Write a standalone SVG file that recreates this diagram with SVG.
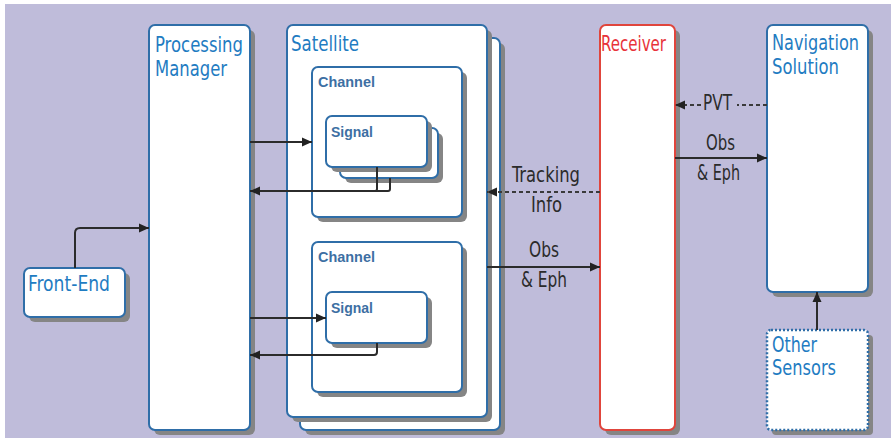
<svg xmlns="http://www.w3.org/2000/svg" width="891" height="438" viewBox="0 0 891 438">
<defs>
<style>
.box{fill:#fff;stroke:#2f6ea8;stroke-width:2}
.sh{fill:#858585}
.t{font-family:"Liberation Sans Narrow","DejaVu Sans Condensed","Liberation Sans",sans-serif;font-size:21px;fill:#1f7cc2}
.tb{font-family:"Liberation Sans","DejaVu Sans",sans-serif;font-weight:bold;font-size:14.5px;fill:#3d6fa3}
.lbl{font-family:"Liberation Sans Narrow","DejaVu Sans Condensed","Liberation Sans",sans-serif;font-size:21px;fill:#2b2b2b}
.ln{fill:none;stroke:#2b2b2b;stroke-width:2}
.dl{fill:none;stroke:#3a3a3a;stroke-width:1.8;stroke-dasharray:4 3}
</style>
<marker id="ah" viewBox="0 0 10 10" refX="10" refY="5" markerWidth="10" markerHeight="10" markerUnits="userSpaceOnUse" orient="auto">
<path d="M0,0.5 L10,5 L0,9.5 Z" fill="#222"/>
</marker>
</defs>
<rect x="5" y="4" width="886" height="434" fill="#bfbcda"/>

<g id="front-end">
<rect class="sh" x="29" y="273" width="101" height="49" rx="6"/>
<rect class="box" x="24" y="268" width="101" height="49" rx="6"/>
<text class="t" x="28" y="291" textLength="82" lengthAdjust="spacingAndGlyphs">Front-End</text>
</g>

<g id="processing-manager">
<rect class="sh" x="154" y="30" width="101" height="405" rx="6"/>
<rect class="box" x="149" y="25" width="101" height="405" rx="6"/>
<text class="t" x="155" y="52" textLength="88" lengthAdjust="spacingAndGlyphs">Processing</text>
<text class="t" x="155" y="76" textLength="72" lengthAdjust="spacingAndGlyphs">Manager</text>
</g>

<g id="satellite">
<rect class="sh" x="305" y="43" width="200" height="392" rx="6"/>
<rect class="box" x="300" y="38" width="200" height="392" rx="6"/>
<rect class="sh" x="292" y="30" width="200" height="392" rx="6"/>
<rect class="box" x="287" y="25" width="200" height="392" rx="6"/>
<text class="t" x="291" y="51" textLength="68" lengthAdjust="spacingAndGlyphs">Satellite</text>
<g id="channel-1">
<rect class="sh" x="317" y="72" width="150" height="150" rx="6"/>
<rect class="box" x="312" y="67" width="150" height="150" rx="6"/>
<text class="tb" x="318" y="87" textLength="57" lengthAdjust="spacingAndGlyphs">Channel</text>
<g id="signal-1">
<rect class="sh" x="345" y="133" width="98" height="50" rx="6"/>
<rect class="box" x="340" y="128" width="98" height="50" rx="6"/>
<rect class="sh" x="331" y="121" width="101" height="51" rx="6"/>
<rect class="box" x="326" y="116" width="101" height="51" rx="6"/>
<text class="tb" x="331" y="137" textLength="42" lengthAdjust="spacingAndGlyphs">Signal</text>
</g>
</g>
<g id="channel-2">
<rect class="sh" x="317" y="247" width="150" height="150" rx="6"/>
<rect class="box" x="312" y="242" width="150" height="150" rx="6"/>
<text class="tb" x="318" y="262" textLength="57" lengthAdjust="spacingAndGlyphs">Channel</text>
<g id="signal-2">
<rect class="sh" x="331" y="297" width="101" height="51" rx="6"/>
<rect class="box" x="326" y="292" width="101" height="51" rx="6"/>
<text class="tb" x="331" y="313" textLength="42" lengthAdjust="spacingAndGlyphs">Signal</text>
</g>
</g>
</g>

<g id="receiver">
<rect class="sh" x="605" y="30" width="75" height="405" rx="6"/>
<rect x="600" y="25" width="75" height="405" rx="6" fill="#fff" stroke="#e0453c" stroke-width="2"/>
<text class="t" x="601" y="51" textLength="65" lengthAdjust="spacingAndGlyphs" style="fill:#e8333a">Receiver</text>
</g>

<g id="navigation-solution">
<rect class="sh" x="772" y="30" width="101" height="267" rx="6"/>
<rect class="box" x="767" y="25" width="101" height="267" rx="6"/>
<text class="t" x="772" y="50" textLength="87" lengthAdjust="spacingAndGlyphs">Navigation</text>
<text class="t" x="772" y="74" textLength="67" lengthAdjust="spacingAndGlyphs">Solution</text>
</g>

<g id="other-sensors">
<rect class="sh" x="772" y="335" width="101" height="100" rx="4"/>
<rect x="767" y="330" width="101" height="100" rx="4" fill="#fff" stroke="#2f6ea8" stroke-width="2.5" stroke-dasharray="2 2"/>
<text class="t" x="772" y="352" textLength="45" lengthAdjust="spacingAndGlyphs">Other</text>
<text class="t" x="772" y="375" textLength="64" lengthAdjust="spacingAndGlyphs">Sensors</text>
</g>

<g id="connectors">
<path class="ln" d="M75,268 V233 Q75,228 80,228 H149" marker-end="url(#ah)"/>
<path class="ln" d="M250,142 H312" marker-end="url(#ah)"/>
<path class="ln" d="M377,167 V189 Q377,191 375,191"/>
<path class="ln" d="M390,178 V189 Q390,191 388,191 H250" marker-end="url(#ah)"/>
<path class="ln" d="M250,318 H326" marker-end="url(#ah)"/>
<path class="ln" d="M377,343 V352 Q377,355 374,355 H250" marker-end="url(#ah)"/>
<path class="dl" d="M600,192 H487" marker-end="url(#ah)"/>
<path class="ln" d="M487,267 H600" marker-end="url(#ah)"/>
<path class="dl" d="M767,105 H737"/>
<path class="dl" d="M701,105 H675" marker-end="url(#ah)"/>
<path class="ln" d="M675,158 H767" marker-end="url(#ah)"/>
<path class="ln" d="M817,330 V292" marker-end="url(#ah)"/>
<text class="lbl" x="512" y="182" textLength="68" lengthAdjust="spacingAndGlyphs">Tracking</text>
<text class="lbl" x="531" y="212" textLength="31" lengthAdjust="spacingAndGlyphs">Info</text>
<text class="lbl" x="529" y="257" textLength="30" lengthAdjust="spacingAndGlyphs">Obs</text>
<text class="lbl" x="521" y="287" textLength="46" lengthAdjust="spacingAndGlyphs">&amp; Eph</text>
<text class="lbl" x="703" y="110" textLength="29" lengthAdjust="spacingAndGlyphs">PVT</text>
<text class="lbl" x="706" y="150" textLength="29" lengthAdjust="spacingAndGlyphs">Obs</text>
<text class="lbl" x="697" y="180" textLength="43" lengthAdjust="spacingAndGlyphs">&amp; Eph</text>
</g>
</svg>
